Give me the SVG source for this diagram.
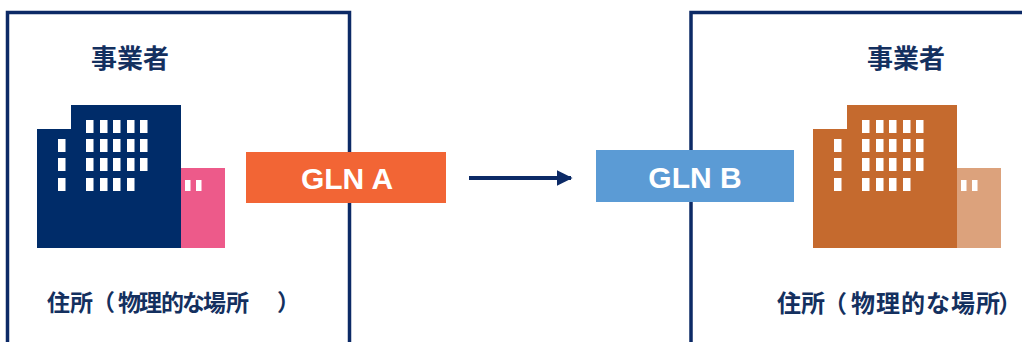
<svg xmlns="http://www.w3.org/2000/svg" width="1022" height="342" viewBox="0 0 1022 342">
<style>
.frame{fill:none;stroke:#0c2a66;stroke-width:3.5}
.jp{font-family:"Noto Sans CJK JP","Noto Sans CJK SC",sans-serif;font-weight:bold;fill:#14305f;dominant-baseline:central;text-spacing-trim:space-all}
.gln{font-family:"Liberation Sans",Arial,sans-serif;font-weight:bold;font-size:30px;fill:#ffffff;text-anchor:middle;dominant-baseline:central}
.win{fill:#ffffff}
</style>
<defs>
<marker id="ah" viewBox="0 0 10 10" refX="9" refY="5" markerWidth="4" markerHeight="4.5" orient="auto" markerUnits="strokeWidth">
<path d="M0,0 L10,5 L0,10 z" fill="#0c2a66"/>
</marker>
<g id="wins">
<rect x="15" y="15" width="7.5" height="13"/><rect x="29" y="15" width="7.5" height="13"/><rect x="42" y="15" width="7.5" height="13"/><rect x="56" y="15" width="7.5" height="13"/><rect x="69" y="15" width="7.5" height="13"/>
<rect x="15" y="34" width="7.5" height="13"/><rect x="29" y="34" width="7.5" height="13"/><rect x="42" y="34" width="7.5" height="13"/><rect x="56" y="34" width="7.5" height="13"/><rect x="69" y="34" width="7.5" height="13"/>
<rect x="15" y="53" width="7.5" height="13"/><rect x="29" y="53" width="7.5" height="13"/><rect x="42" y="53" width="7.5" height="13"/><rect x="56" y="53" width="7.5" height="13"/><rect x="69" y="53" width="7.5" height="13"/>
<rect x="15" y="73" width="7.5" height="13"/><rect x="29" y="73" width="7.5" height="13"/><rect x="42" y="73" width="7.5" height="13"/><rect x="56" y="73" width="7.5" height="13"/>
<rect x="-13" y="34" width="7.5" height="13"/><rect x="-13" y="53" width="7.5" height="13"/><rect x="-13" y="73" width="7.5" height="13"/>
<rect x="114" y="75" width="5.5" height="11"/><rect x="125" y="75" width="5.5" height="11"/>
</g>
</defs>

<g id="node-left">
<rect class="frame" x="7.5" y="12.5" width="342" height="360"/>
<text class="jp" x="130" y="56" font-size="26" text-anchor="middle">事業者</text>
<path d="M71,105 H181 V248 H37 V129 H71 Z" fill="#002c69"/>
<rect x="181" y="168" width="44" height="80" fill="#ed5a8a"/>
<use href="#wins" x="71" y="105" class="win"/>
<text class="jp" x="47 70 92 118 139 161 182 203 226 277" y="301" font-size="23">住所（物理的な場所）</text>
</g>

<g id="node-right">
<rect class="frame" x="691" y="12.5" width="400" height="360"/>
<text class="jp" x="906" y="56" font-size="26" text-anchor="middle">事業者</text>
<path d="M847,105 H957 V248 H813 V129 H847 Z" fill="#c56a2e"/>
<rect x="957" y="168" width="44" height="80" fill="#dca27c"/>
<use href="#wins" x="847" y="105" class="win"/>
<text class="jp" x="777 801 823 851 876 901 926 951 976 998" y="301" font-size="24">住所（物理的な場所）</text>
</g>

<g id="node-glnA">
<rect x="246" y="152" width="200" height="51" fill="#f26535"/>
<text class="gln" x="347" y="178">GLN A</text>
</g>

<g id="node-glnB">
<rect x="596" y="150" width="198" height="52" fill="#5b9bd5"/>
<text class="gln" x="695" y="177">GLN B</text>
</g>

<g id="connectors">
<line x1="469" y1="178" x2="571" y2="178" stroke="#0c2a66" stroke-width="4" marker-end="url(#ah)"/>
</g>
</svg>
